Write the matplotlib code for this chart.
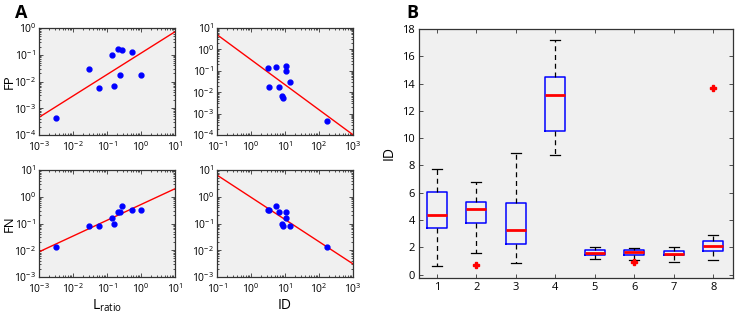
import matplotlib
matplotlib.use("Agg")
import matplotlib.pyplot as plt
import numpy as np

plt.rcParams['font.family'] = ['Open Sans', 'DejaVu Sans']
plt.rcParams['mathtext.default'] = 'regular'
plt.rcParams['axes.unicode_minus'] = False

# per-unit quality measures (panel A)
lratio = [0.0032, 0.029, 0.060, 0.138, 0.166, 0.204, 0.24, 0.27, 0.56, 1.0]
iso_dist = [174, 14.0, 8.9, 10.5, 8.0, 10.5, 6.6, 5.6, 3.2, 3.3]
fp = [0.00044, 0.029, 0.0055, 0.094, 0.0069, 0.163, 0.018, 0.145, 0.13, 0.018]
fn = [0.0138, 0.079, 0.084, 0.163, 0.10, 0.266, 0.26, 0.46, 0.32, 0.33]

# fitted lines in log-log space: log10(y) = slope*log10(x) + icpt
fit_fp_lratio = (0.80, -0.94)
fit_fp_id = (-1.17, -0.48)
fit_fn_lratio = (0.59, -0.29)
fit_fn_id = (-0.83, -0.02)

# panel B box statistics
groups = [1, 2, 3, 4, 5, 6, 7, 8]
whislo = [0.61, 1.56, 0.86, 8.75, 1.12, 1.05, 0.95, 1.10]
q1 = [3.42, 3.81, 2.25, 10.49, 1.44, 1.42, 1.42, 1.74]
med = [4.40, 4.84, 3.30, 13.13, 1.59, 1.64, 1.54, 2.10]
q3 = [6.06, 5.35, 5.23, 14.50, 1.81, 1.81, 1.76, 2.49]
whishi = [7.75, 6.82, 8.90, 17.16, 2.03, 1.93, 2.00, 2.88]
fliers = [[], [0.73], [], [], [], [0.93], [], [13.69]]

fig = plt.figure(figsize=(7.37, 3.16), dpi=100)
W, H = 737, 316

def ax_px(l, t, r, b):
    return fig.add_axes([l / W, 1 - b / H, (r - l) / W, (b - t) / H])

def style(ax):
    ax.set_facecolor('#f0f0f0')
    for s in ax.spines.values():
        s.set_color('#333333')
        s.set_linewidth(0.9)
    ax.tick_params(direction='in', length=3, width=0.6, colors='#333333',
                   labelcolor='black', top=True, right=True, which='both')
    ax.tick_params(which='minor', length=1.5)

panels = [
    (ax_px(39, 28, 175, 135), lratio, fp, fit_fp_lratio, (1e-3, 1e1), (1e-4, 1e0), 'FP', None),
    (ax_px(217, 28, 353, 135), iso_dist, fp, fit_fp_id, (1e-1, 1e3), (1e-4, 1e1), None, None),
    (ax_px(39, 170, 175, 277), lratio, fn, fit_fn_lratio, (1e-3, 1e1), (1e-3, 1e1), 'FN', '$L_{ratio}$'),
    (ax_px(217, 170, 353, 277), iso_dist, fn, fit_fn_id, (1e-1, 1e3), (1e-3, 1e1), None, 'ID'),
]
for ax, x, y, fit, xl, yl, ylab, xlab in panels:
    style(ax)
    ax.set_xscale('log')
    ax.set_yscale('log')
    xs = np.array(xl)
    ax.plot(xs, 10 ** (fit[0] * np.log10(xs) + fit[1]), color='red', lw=1)
    ax.plot(x, y, 'o', color='blue', ms=3.5, mec='blue')
    ax.set_xlim(xl)
    ax.set_ylim(yl)
    ax.set_xticks([10.0 ** k for k in range(int(np.log10(xl[0])), int(np.log10(xl[1])) + 1)])
    ax.set_yticks([10.0 ** k for k in range(int(np.log10(yl[0])), int(np.log10(yl[1])) + 1)])
    ax.tick_params(labelsize=7.5, pad=2)
    ax.tick_params(axis='x', pad=4)
    if ylab:
        ax.set_ylabel(ylab, fontsize=9.5)
        ax.yaxis.set_label_coords(-0.172, 0.5)
    if xlab:
        ax.set_xlabel(xlab, fontsize=10, labelpad=1)

axb = ax_px(419, 29, 733, 278)
style(axb)
stats = []
for i in range(len(groups)):
    stats.append(dict(med=med[i], q1=q1[i], q3=q3[i], whislo=whislo[i],
                      whishi=whishi[i], fliers=fliers[i], label=str(groups[i])))
axb.bxp(stats, positions=groups, widths=0.5, showfliers=True,
        boxprops=dict(color='blue', lw=1.1),
        medianprops=dict(color='red', lw=2),
        whiskerprops=dict(color='black', lw=0.9, ls=(0, (4, 3))),
        capprops=dict(color='black', lw=0.9),
        capwidths=0.25,
        flierprops=dict(marker='P', mfc='red', mec='red', ms=5))
axb.set_xlim(0.55, 8.5)
axb.set_ylim(-0.25, 18)
axb.set_yticks(range(0, 19, 2))
axb.tick_params(labelsize=8, pad=3)
axb.set_ylabel('ID', fontsize=10, labelpad=4)

fig.text(15 / W, 1 - 13 / H, 'A', fontsize=13, fontweight='bold', va='center')
fig.text(406 / W, 1 - 13 / H, 'B', fontsize=13, fontweight='bold', va='center')

fig.savefig('out.png', dpi=100)
